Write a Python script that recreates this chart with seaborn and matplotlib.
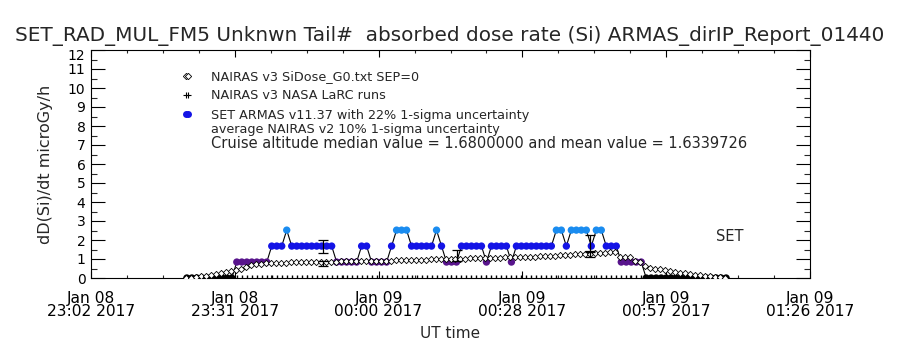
import numpy as np
import pandas as pd
import matplotlib
matplotlib.use("Agg")
import matplotlib.pyplot as plt
import matplotlib.transforms as mtransforms
import seaborn as sns
from matplotlib.lines import Line2D
from matplotlib.ticker import MultipleLocator

# ---- data (x in minutes after 23:02 UT) ----
title = "SET_RAD_MUL_FM5 Unknwn Tail#  absorbed dose rate (Si) ARMAS_dirIP_Report_01440"
tick_minutes = [0.0, 28.8, 57.6, 86.4, 115.2, 144.0]
tick_labels = ["Jan 08\n23:02 2017", "Jan 08\n23:31 2017", "Jan 09\n00:00 2017",
               "Jan 09\n00:28 2017", "Jan 09\n00:57 2017", "Jan 09\n01:26 2017"]

# NAIRAS v3 SiDose_G0, one value per minute from t=19
nairas_start = 19.0
nairas_dose = [0.00, 0.02, 0.05, 0.08, 0.12, 0.16, 0.20, 0.25, 0.30, 0.36,
               0.42, 0.50, 0.58, 0.66, 0.72, 0.76, 0.79,
               0.80, 0.80, 0.81, 0.81, 0.82, 0.82, 0.83, 0.83, 0.84, 0.84, 0.85,
               0.85, 0.86, 0.86, 0.87, 0.87, 0.88, 0.88, 0.89, 0.89, 0.90, 0.90,
               0.91, 0.92, 0.92, 0.93, 0.94, 0.94, 0.95, 0.96, 0.96, 0.97, 0.98,
               0.98, 0.99, 1.00, 1.00, 1.01, 1.02, 1.02, 1.03, 1.04, 1.04, 1.05,
               1.06, 1.06, 1.07, 1.08, 1.08, 1.09, 1.10, 1.11, 1.12, 1.13, 1.14, 1.15,
               1.16, 1.18, 1.19, 1.21, 1.22, 1.24, 1.25, 1.27, 1.28, 1.30, 1.32,
               1.34, 1.36, 1.38,
               1.10, 1.09, 1.08, 0.87, 0.86, 0.62, 0.52, 0.50, 0.48,
               0.40, 0.35, 0.30, 0.27, 0.25, 0.22,
               0.18, 0.15, 0.12, 0.10, 0.07, 0.04, 0.02]

# SET ARMAS v11.37, one value per minute from t=19.2
armas_start = 19.2
armas_dose = [0.0, 0.0, 0.0, 0.0, 0.0, 0.0, 0.0, 0.0, 0.0, 0.0,
              0.84, 0.84, 0.84, 0.84, 0.84, 0.84, 0.84,
              1.68, 1.68, 1.68, 2.52,
              1.68, 1.68, 1.68, 1.68, 1.68, 1.68, 1.68, 1.68, 1.68,
              0.84, 0.84, 0.84, 0.84, 0.84, 1.68, 1.68,
              0.84, 0.84, 0.84, 0.84, 1.68, 2.52, 2.52, 2.52,
              1.68, 1.68, 1.68, 1.68, 1.68, 2.52, 1.68,
              0.84, 0.84, 0.84, 1.68, 1.68, 1.68, 1.68, 1.68, 0.84,
              1.68, 1.68, 1.68, 1.68, 0.84,
              1.68, 1.68, 1.68, 1.68, 1.68, 1.68, 1.68, 1.68, 2.52, 2.52,
              1.68, 2.52, 2.52, 2.52, 2.52, 1.68, 2.52, 2.52,
              1.68, 1.68, 1.68, 0.84, 0.84, 0.84, 0.84, 0.84,
              0.0, 0.0, 0.0, 0.0, 0.0, 0.0, 0.0, 0.0, 0.0, 0.0,
              0.0, 0.0, 0.0, 0.0, 0.0, 0.0, 0.0]

# NAIRAS v3 NASA LaRC runs (10% bars) and ARMAS 22% bars
larc_time = [46.4, 73.4, 100.0]
larc_dose = [0.76, 1.18, 1.24]
larc_err = [0.13, 0.29, 0.13]
set_bar_time = [46.4, 100.0]
set_bar_dose = [1.66, 1.84]
set_bar_err = [0.34, 0.42]

level_colors = {0.0: "black", 0.84: "#58148c", 1.68: "#1414e6", 2.52: "#1a8cf0"}

dfNairas = pd.DataFrame({"t": nairas_start + np.arange(len(nairas_dose)), "dose": nairas_dose})
dfArmas = pd.DataFrame({"t": armas_start + np.arange(len(armas_dose)), "dose": armas_dose})

sns.set_style("ticks")
plt.rcParams["font.family"] = ["DejaVu Sans"]

fig = plt.figure(figsize=(9, 3.5), dpi=100)
ax = fig.add_axes([91 / 900, 1 - 278 / 350, 719 / 900, 228 / 350])

sns.lineplot(data=dfArmas, x="t", y="dose", color="black", lw=0.8,
             estimator=None, sort=False, ax=ax, zorder=2)
sns.scatterplot(data=dfArmas, x="t", y="dose", hue="dose", palette=level_colors,
                s=28, linewidth=0, legend=False, ax=ax, zorder=3)
sns.scatterplot(data=dfNairas, x="t", y="dose", marker="D", s=10, color="white",
                edgecolor="black", linewidth=0.6, ax=ax, zorder=4)
sns.rugplot(x=dfArmas.loc[dfArmas["dose"] > 0, "t"], height=0.014, color="black",
            lw=0.8, ax=ax)

ax.errorbar(set_bar_time, set_bar_dose, yerr=set_bar_err, fmt="none", ecolor="black",
            elinewidth=0.9, capsize=3.5, capthick=0.9, zorder=5)
ax.errorbar(larc_time, larc_dose, yerr=larc_err, fmt="none", ecolor="black",
            elinewidth=0.9, capsize=3.5, capthick=0.9, zorder=5)

ax.set_xlim(0, 144)
ax.set_ylim(0, 12)
ax.set_xticks(tick_minutes)
ax.set_xticklabels(tick_labels)
for lbl in ax.get_xticklabels():
    lbl.set_linespacing(0.9)
ax.xaxis.set_minor_locator(MultipleLocator(7.2))
ax.set_yticks(range(13))
ax.yaxis.set_minor_locator(MultipleLocator(0.5))
ax.tick_params(axis="y", which="major", direction="in", length=10, width=0.8,
               left=True, right=True, labelsize=10, pad=4, colors="black")
ax.tick_params(axis="y", which="minor", direction="in", length=4.5, width=0.8,
               left=True, right=True)
ax.tick_params(axis="x", which="major", direction="in", length=5, width=0.8,
               top=True, bottom=True, labelsize=11.2, pad=9, colors="black")
ax.tick_params(axis="x", which="minor", direction="in", length=2.5, width=0.8,
               top=True, bottom=True)
for sp in ax.spines.values():
    sp.set_linewidth(0.8)
    sp.set_color("black")

# the top y label sits a little lower in the reference
top_lbl = ax.get_yticklabels()[-1]
top_lbl.set_transform(top_lbl.get_transform() +
                      mtransforms.ScaledTranslation(0, -4 / 100, fig.dpi_scale_trans))

ax.set_xlabel("UT time", fontsize=11)
ax.set_ylabel("dD(Si)/dt microGy/h", fontsize=11.5)
ax.xaxis.set_label_coords(0.5, -(326 - 278) / 228)
ax.yaxis.set_label_coords(-(91 - 53) / 719, 0.5)

fig.text(0.5, 1 - 36 / 350, title, ha="center", va="center", fontsize=14.4)

handles = [
    Line2D([], [], marker="D", ls="none", mfc="white", mec="black", ms=3.2, mew=0.6),
    Line2D([], [], marker="+", ls="none", color="black", ms=5, mew=0.8),
    Line2D([], [], marker="o", ls="none", color="#1414e6", ms=5, mew=0),
]
labels = ["NAIRAS v3 SiDose_G0.txt SEP=0",
          "NAIRAS v3 NASA LaRC runs",
          "SET ARMAS v11.37 with 22% 1-sigma uncertainty"]
ax.legend(handles, labels, loc="upper left", bbox_to_anchor=((182 - 91) / 719, (278 - 70) / 228),
          frameon=False, numpoints=2, handlelength=0.8, handletextpad=1.5,
          borderpad=0, borderaxespad=0, labelspacing=0.5, fontsize=9.2)
ax.text((211 - 91) / 719, (278 - 129.5) / 228, "average NAIRAS v2 10% 1-sigma uncertainty",
        transform=ax.transAxes, fontsize=9.2, va="center")
ax.text((211 - 91) / 719, (278 - 143.5) / 228,
        "Cruise altitude median value = 1.6800000 and mean value = 1.6339726",
        transform=ax.transAxes, fontsize=10.5, va="center")
ax.text(128, 2.16, "SET", fontsize=10.5, ha="center", va="center")

fig.savefig("out.png", dpi=100)
